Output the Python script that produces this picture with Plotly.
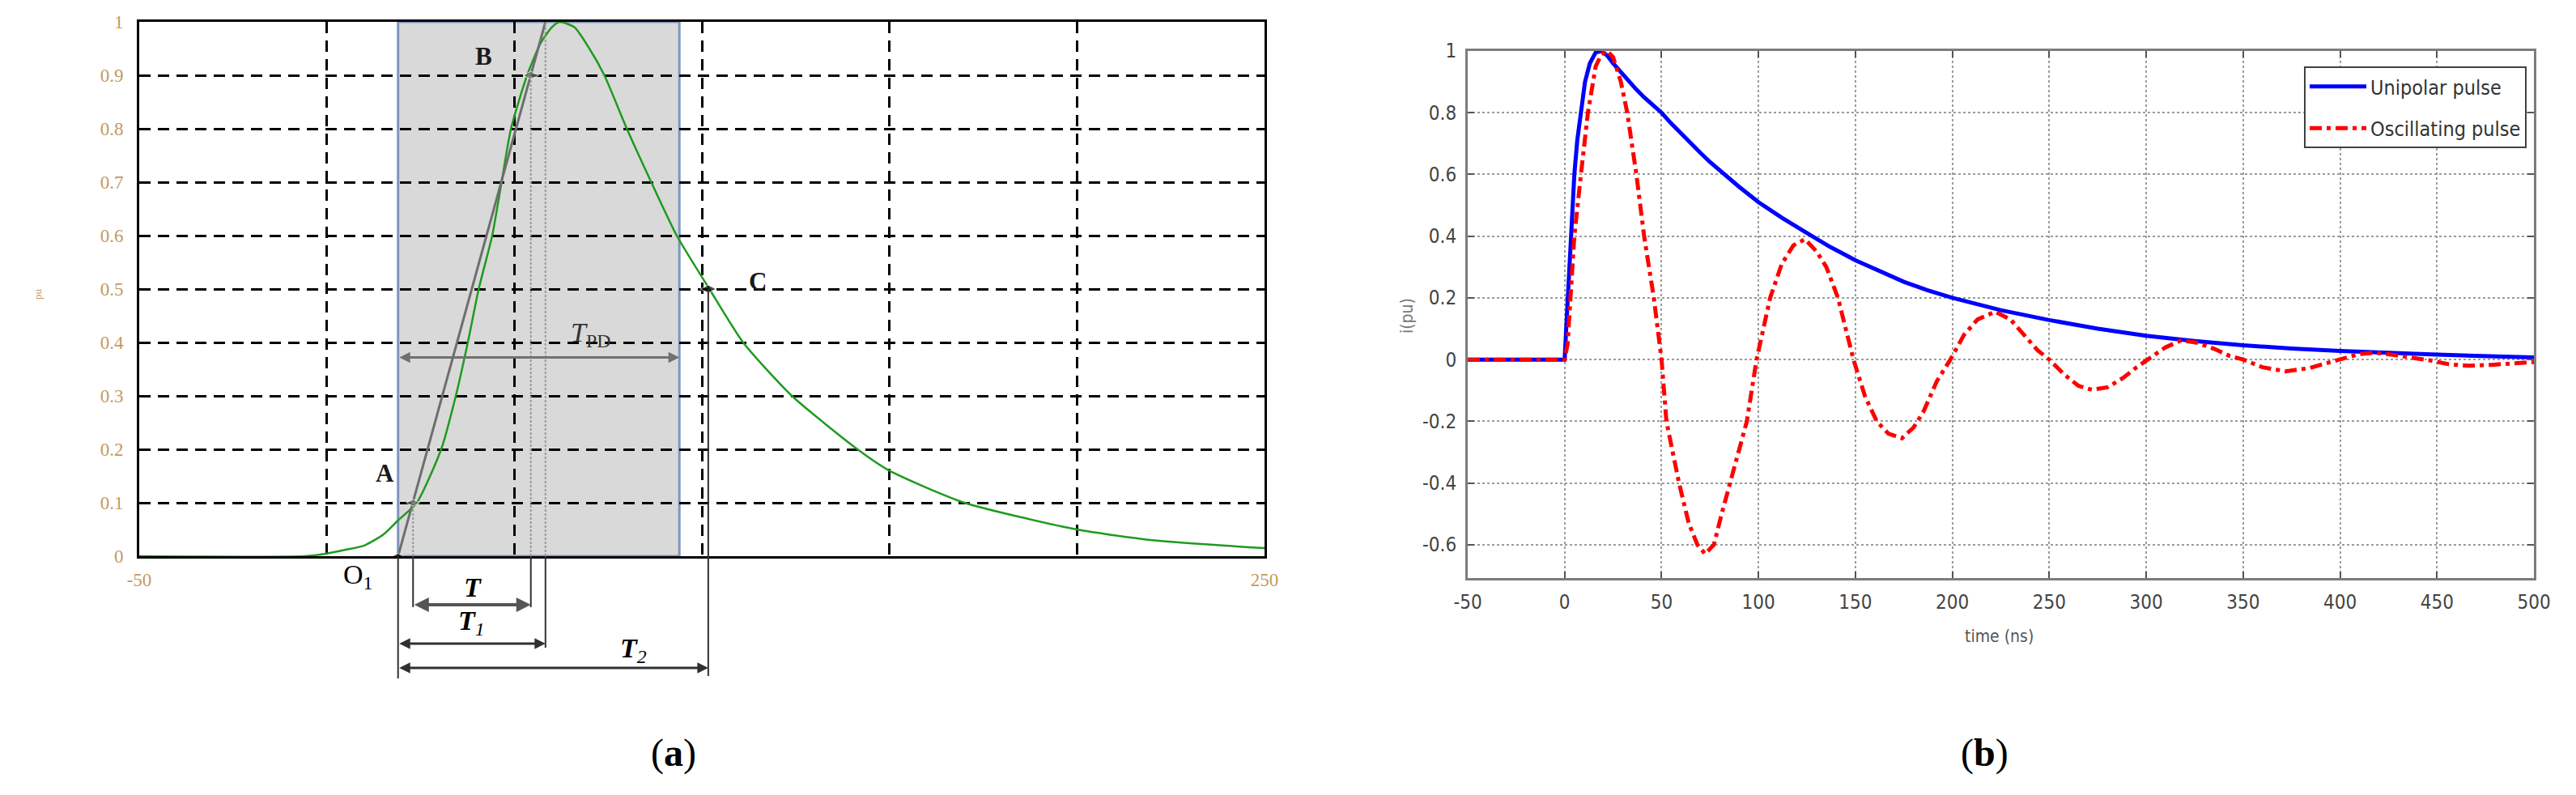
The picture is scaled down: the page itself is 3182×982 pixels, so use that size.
import plotly.graph_objects as go

# page body keeps its default 8px margin, so the figure is 16px smaller than the window
OFF = 8
W, H = 3182 - 2 * OFF, 982 - 2 * OFF

# ---------------- Panel (a): normalised impulse ----------------
t_a = [-50, -6, 0, 5, 10, 15, 19, 24, 30.5, 34.4, 37.6, 40.5, 44.1, 46.6, 49.1, 53.4,
       57, 60, 62.1, 66, 70, 74, 80, 86.5, 93.3, 102, 111, 124, 141.5, 150, 170, 200,
       220, 250]
v_a = [0, 0, 0.005, 0.012, 0.02, 0.04, 0.067, 0.1, 0.2, 0.3, 0.4, 0.5, 0.6, 0.7, 0.8, 0.9,
       0.96, 0.99, 1.0, 0.99, 0.95, 0.9, 0.8, 0.7, 0.6, 0.5, 0.4, 0.3, 0.2, 0.16, 0.1, 0.05,
       0.03, 0.015]
a_xticks = [-50, 0, 50, 100, 150, 200, 250]
a_xtext = ["-50", "", "", "", "", "", "250"]
a_yticks = [0, 0.1, 0.2, 0.3, 0.4, 0.5, 0.6, 0.7, 0.8, 0.9, 1]
a_ytext = ["0", "0.1", "0.2", "0.3", "0.4", "0.5", "0.6", "0.7", "0.8", "0.9", "1"]
# characteristic points (time, value)
pt_O1 = (19.0, 0.0)
pt_A = (23.0, 0.1)
pt_B = (54.4, 0.9)
pt_top = (58.3, 1.0)
pt_C = (101.7, 0.5)
t_pd = (19.0, 94.0)

# ---------------- Panel (b): unipolar vs oscillating ----------------
t_b = [-50, 0, 0.8, 1.6, 3, 5, 6.5, 8.2, 10.5, 13, 16, 19, 22, 25, 29, 33, 37, 41, 45, 50,
       55, 60, 65, 70, 75, 80, 90, 100, 112, 125, 137, 150, 162, 175, 187, 200, 225, 250,
       275, 300, 325, 350, 375, 400, 450, 500]
u_b = [0, 0, 0.1, 0.2, 0.4, 0.6, 0.71, 0.8, 0.9, 0.96, 0.995, 1.0, 0.985, 0.96, 0.93, 0.9,
       0.875, 0.85, 0.827, 0.8, 0.765, 0.732, 0.7, 0.67, 0.64, 0.612, 0.56, 0.51, 0.46,
       0.41, 0.365, 0.322, 0.287, 0.252, 0.225, 0.2, 0.16, 0.128, 0.1, 0.077, 0.06, 0.046,
       0.036, 0.028, 0.016, 0.007]
t_c = [-50, 0, 1.5, 3, 5, 8.4, 12, 16, 19, 22, 25, 29, 32.3, 37, 41, 46, 50, 52.5, 56, 59,
       64, 68.5, 72.5, 77, 81, 85.5, 90, 94, 99, 106, 112, 118, 124, 130, 135, 141, 149,
       155, 161, 167, 174, 180, 185, 192, 199, 206, 213, 222, 230, 237, 244, 250, 258, 265,
       272, 280, 288, 295, 301, 310, 318, 326, 335, 343, 350, 360, 372, 384, 395, 400, 410,
       418, 428, 440, 446, 456, 466, 478, 490, 500]
w_c = [0, 0, 0.05, 0.2, 0.4, 0.6, 0.8, 0.95, 0.99, 1.0, 0.98, 0.9, 0.8, 0.6, 0.4, 0.2, 0.0,
       -0.2, -0.31, -0.4, -0.53, -0.6, -0.63, -0.6, -0.5, -0.4, -0.3, -0.2, 0.0, 0.2, 0.31,
       0.37, 0.39, 0.35, 0.3, 0.2, 0.0, -0.12, -0.2, -0.24, -0.255, -0.22, -0.17, -0.07, 0.0,
       0.08, 0.13, 0.155, 0.13, 0.08, 0.03, 0.0, -0.05, -0.085, -0.098, -0.09, -0.06, -0.025,
       0.0, 0.04, 0.062, 0.055, 0.035, 0.012, 0.0, -0.025, -0.038, -0.028, -0.008, 0.0, 0.018,
       0.022, 0.015, 0.003, -0.002, -0.015, -0.02, -0.017, -0.012, -0.008]
b_xticks = [-50, 0, 50, 100, 150, 200, 250, 300, 350, 400, 450, 500]
b_xtext = ["-50", "0", "50", "100", "150", "200", "250", "300", "350", "400", "450", "500"]
b_yticks = [-0.6, -0.4, -0.2, 0, 0.2, 0.4, 0.6, 0.8, 1]
b_ytext = ["-0.6", "-0.4", "-0.2", "0", "0.2", "0.4", "0.6", "0.8", "1"]
b_names = ["Unipolar pulse", "Oscillating pulse"]


def px(p):
    """window pixel x -> paper"""
    return (p - OFF) / W


def py(p):
    """window pixel y -> paper"""
    return 1 - (p - OFF) / H


# ---------------- geometry ----------------
XA_DOM = [px(172), px(1562)]
YA_DOM = [py(687), py(27)]
XA_RNG = [-50, 250]
YA_RNG = [0, 1]
XB_DOM = [px(1813), px(3130)]
YB_DOM = [py(714), py(63)]
XB_RNG = [-50, 500]
YB_RNG = [-0.708, 1]


def ax_px(t):
    return XA_DOM[0] + (t - XA_RNG[0]) / (XA_RNG[1] - XA_RNG[0]) * (XA_DOM[1] - XA_DOM[0])


def ay_py(v):
    return YA_DOM[0] + (v - YA_RNG[0]) / (YA_RNG[1] - YA_RNG[0]) * (YA_DOM[1] - YA_DOM[0])


def a_len_px(dt):
    return dt / (XA_RNG[1] - XA_RNG[0]) * (XA_DOM[1] - XA_DOM[0]) * W


fig = go.Figure()

SERIF = "Liberation Serif, DejaVu Serif, serif"
NARROW = "Liberation Sans Narrow, DejaVu Sans Condensed, Liberation Sans, Arial, sans-serif"
TAN = "#c39a5e"

fig.add_trace(go.Scatter(x=t_a, y=v_a, mode="lines",
                         line=dict(color="#1f9a1f", width=2.5, shape="spline", smoothing=0.6),
                         xaxis="x", yaxis="y", showlegend=False, hoverinfo="skip"))
fig.add_trace(go.Scatter(x=[pt_O1[0], pt_top[0]], y=[pt_O1[1], pt_top[1]], mode="lines",
                         line=dict(color="#6e6e6e", width=3), xaxis="x", yaxis="y",
                         showlegend=False, hoverinfo="skip", cliponaxis=False))
fig.add_trace(go.Scatter(x=[pt_A[0], pt_B[0]], y=[pt_A[1], pt_B[1]], mode="markers",
                         marker=dict(color="#6a6a6a", size=[12, 14], symbol="diamond-wide"),
                         xaxis="x", yaxis="y", showlegend=False, hoverinfo="skip",
                         cliponaxis=False))
fig.add_trace(go.Scatter(x=[pt_C[0], pt_O1[0]], y=[pt_C[1], pt_O1[1]], mode="markers",
                         marker=dict(color="black", size=[14, 10], symbol="diamond-wide"),
                         xaxis="x", yaxis="y", showlegend=False, hoverinfo="skip",
                         cliponaxis=False))

fig.add_trace(go.Scatter(x=t_b, y=u_b, mode="lines", name=b_names[0],
                         line=dict(color="#0000ff", width=5),
                         xaxis="x2", yaxis="y2", legendgroup="g1", hoverinfo="skip"))
fig.add_trace(go.Scatter(x=t_c, y=w_c, mode="lines", name=b_names[1],
                         line=dict(color="#ff0000", width=5, dash="15px,6px,5px,6px"),
                         xaxis="x2", yaxis="y2", legendgroup="g2", hoverinfo="skip"))

shapes = []
shapes.append(dict(type="rect", xref="x", yref="y", x0=t_pd[0], x1=t_pd[1], y0=0, y1=1,
                   fillcolor="#d9d9d9", line=dict(color="#7f95bf", width=3), layer="below"))

for (t, v) in [pt_A, pt_B, pt_top]:
    shapes.append(dict(type="line", xref="x", yref="y", x0=t, x1=t, y0=0, y1=v,
                       line=dict(color="#9a9a9a", width=2, dash="3px,2px"), layer="above"))

below = [(pt_O1[0], 0.0, 838), (pt_A[0], 0.0, 750), (pt_B[0], 0.0, 750),
         (pt_top[0], 0.0, 800), (pt_C[0], pt_C[1], 835)]
for (t, v, pyend) in below:
    shapes.append(dict(type="line", xref="paper", yref="paper", x0=ax_px(t), x1=ax_px(t),
                       y0=ay_py(v), y1=py(pyend), line=dict(color="#303030", width=2)))

annotations = []


def dbl_arrow(t0, t1, yp, color="#505050", width=3):
    annotations.append(dict(xref="paper", yref="paper", x=ax_px(t1), y=yp, text="",
                            showarrow=True, ax=-a_len_px(t1 - t0), ay=0, axref="pixel",
                            ayref="pixel", arrowhead=2, arrowside="end+start", arrowsize=0.9,
                            arrowwidth=width, arrowcolor=color, standoff=0, startstandoff=0))


dbl_arrow(t_pd[0], t_pd[1], ay_py(0.372), color="#707070", width=3)
dbl_arrow(pt_A[0], pt_B[0], py(747), color="#555555", width=4)
dbl_arrow(pt_O1[0], pt_top[0], py(795), color="#303030", width=3)
dbl_arrow(pt_O1[0], pt_C[0], py(825), color="#303030", width=3)

C = dict(xanchor="center", yanchor="middle", showarrow=False)
lbl = dict(font=dict(family=SERIF, size=31, color="#1a1a1a"), **C)
annotations += [
    dict(xref="x", yref="y", x=15.5, y=0.155, text="<b>A</b>", **lbl),
    dict(xref="x", yref="y", x=41.8, y=0.935, text="<b>B</b>", **lbl),
    dict(xref="x", yref="y", x=114.8, y=0.515, text="<b>C</b>", **lbl),
    dict(xref="x", yref="y", x=70.3, y=0.415, text="<i>T</i><sub>PD</sub>",
         font=dict(family=SERIF, size=34, color="#333333"), **C),
    dict(xref="paper", yref="paper", x=px(442), y=py(712), text="O<sub>1</sub>",
         font=dict(family=SERIF, size=34, color="black"), **C),
    dict(xref="paper", yref="paper", x=px(584), y=py(725), text="<b><i>T</i></b>",
         font=dict(family=SERIF, size=34, color="black"), **C),
    dict(xref="paper", yref="paper", x=px(582), y=py(769),
         text="<b><i>T</i></b><sub><i>1</i></sub>",
         font=dict(family=SERIF, size=34, color="black"), **C),
    dict(xref="paper", yref="paper", x=px(782), y=py(803),
         text="<b><i>T</i></b><sub><i>2</i></sub>",
         font=dict(family=SERIF, size=34, color="black"), **C),
    dict(xref="paper", yref="paper", x=px(46), y=py(363), text="pu", textangle=-90,
         font=dict(family=SERIF, size=13, color=TAN), **C),
    dict(xref="paper", yref="paper", x=px(832), y=py(930), text="(<b>a</b>)",
         font=dict(family=SERIF, size=48, color="black"), **C),
    dict(xref="paper", yref="paper", x=px(2451), y=py(930), text="(<b>b</b>)",
         font=dict(family=SERIF, size=48, color="black"), **C),
    dict(xref="paper", yref="paper", x=px(2469), y=py(786), text="time (ns)",
         font=dict(family=NARROW, size=21, color="#555555"), **C),
    dict(xref="paper", yref="paper", x=px(1738), y=py(390), text="i(pu)", textangle=-90,
         font=dict(family=NARROW, size=21, color="#777777"), **C),
]

grid_a = dict(showgrid=True, gridcolor="black", gridwidth=3, griddash="14px,9px",
              showline=True, linecolor="black", linewidth=3, mirror=True, zeroline=False,
              ticks="", automargin=False, tickfont=dict(family=SERIF, size=23, color=TAN))
grid_b = dict(showgrid=True, gridcolor="#9c9c9c", gridwidth=2, griddash="3px,3px",
              showline=True, linecolor="#7c7c7c", linewidth=3, mirror="ticks", zeroline=False,
              ticks="inside", ticklen=8, tickwidth=2, tickcolor="#555555", automargin=False,
              tickfont=dict(family=NARROW, size=24, color="#444444"))

fig.update_layout(
    width=W, height=H, margin=dict(l=0, r=0, t=0, b=0, autoexpand=False),
    paper_bgcolor="white", plot_bgcolor="white",
    xaxis=dict(domain=XA_DOM, range=XA_RNG, tickvals=a_xticks, ticktext=a_xtext,
               anchor="y", ticklabelstandoff=6, **grid_a),
    yaxis=dict(domain=YA_DOM, range=YA_RNG, tickvals=a_yticks, ticktext=a_ytext,
               anchor="x", ticklabelstandoff=12, **grid_a),
    xaxis2=dict(domain=XB_DOM, range=XB_RNG, tickvals=b_xticks, ticktext=b_xtext,
                anchor="y2", ticklabelstandoff=6, **grid_b),
    yaxis2=dict(domain=YB_DOM, range=YB_RNG, tickvals=b_yticks, ticktext=b_ytext,
                anchor="x2", ticklabelstandoff=6, **grid_b),
    shapes=shapes, annotations=annotations,
    legend=dict(x=px(2846), y=py(82), xanchor="left", yanchor="top", bgcolor="white",
                bordercolor="#404040", borderwidth=2, tracegroupgap=16,
                font=dict(family=NARROW, size=25, color="#333333"), itemwidth=70),
    showlegend=True,
)

fig.write_html("out.html")
